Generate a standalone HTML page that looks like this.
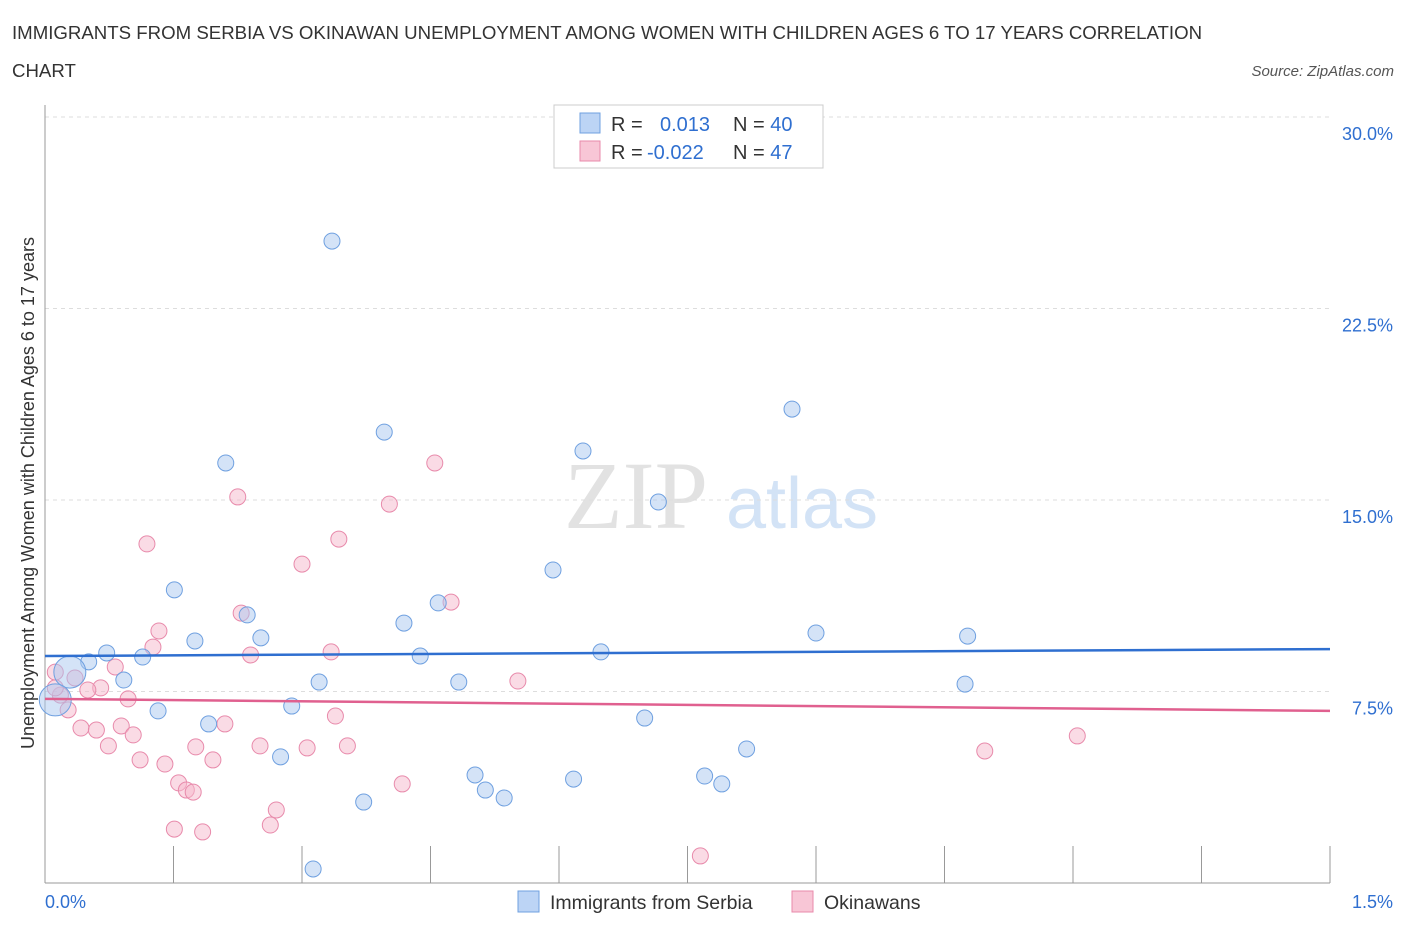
<!DOCTYPE html>
<html><head><meta charset="utf-8"><style>
body{margin:0;background:#fff;font-family:"Liberation Sans",sans-serif;}
#wrap{position:relative;width:1406px;height:930px;overflow:hidden}
</style></head><body>
<div id="wrap">
<svg id="svg" width="1406" height="930" xmlns="http://www.w3.org/2000/svg">
<text x="12" y="39" font-size="18.65" fill="#333">IMMIGRANTS FROM SERBIA VS OKINAWAN UNEMPLOYMENT AMONG WOMEN WITH CHILDREN AGES 6 TO 17 YEARS CORRELATION</text>
<text x="12" y="77" font-size="18.65" fill="#333">CHART</text>
<text x="1394" y="76" font-size="15" fill="#555" font-style="italic" text-anchor="end">Source: ZipAtlas.com</text>
<text x="636" y="528" font-size="96" fill="#e2e2e2" font-family="Liberation Serif,serif" text-anchor="middle">ZIP</text>
<text x="802" y="528" font-size="72" fill="#d3e3f6" text-anchor="middle">atlas</text>
<text transform="translate(34,493) rotate(-90)" font-size="18" fill="#333" text-anchor="middle">Unemployment Among Women with Children Ages 6 to 17 years</text>
<g id="grid"></g><g id="marks"></g>
<g>
<rect x="554" y="105" width="269" height="63" fill="#fff" stroke="#ccc"/>
<rect x="580" y="113" width="20" height="20" fill="#bcd4f5" stroke="#6fa0e0"/>
<rect x="580" y="141" width="20" height="20" fill="#f8c6d6" stroke="#e88aab"/>
<text x="611" y="131" font-size="20" fill="#333">R = <tspan fill="#2f6fd0" x="660">0.013</tspan><tspan fill="#333" x="733">N = </tspan><tspan fill="#2f6fd0">40</tspan></text>
<text x="611" y="159" font-size="20" fill="#333">R = <tspan fill="#2f6fd0" x="647">-0.022</tspan><tspan fill="#333" x="733">N = </tspan><tspan fill="#2f6fd0">47</tspan></text>
</g>
<rect x="518" y="891" width="21" height="21" fill="#bcd4f5" stroke="#6fa0e0"/>
<text x="550" y="909" font-size="19.5" fill="#333">Immigrants from Serbia</text>
<rect x="792" y="891" width="21" height="21" fill="#f8c6d6" stroke="#e88aab"/>
<text x="824" y="909" font-size="19.5" fill="#333">Okinawans</text>
</svg></div>
<script>
const yTicks=[7.5,15,22.5,30];
const yTickLabels=["7.5%","15.0%","22.5%","30.0%"];
const xTicks=[0,0.15,0.3,0.45,0.6,0.75,0.9,1.05,1.2,1.35,1.5];
const serbiaX=[0.335,0.211,0.396,0.872,0.628,0.716,0.151,0.593,0.236,0.459,0.419,0.175,0.252,0.900,1.077,0.072,0.114,0.051,0.029,0.438,0.649,0.092,0.320,0.483,1.074,0.132,0.288,0.191,0.700,0.819,0.275,0.502,0.617,0.770,0.514,0.790,0.536,0.372,0.313,0.012];
const serbiaY=[25.14,16.45,17.66,18.56,16.92,14.92,11.48,12.26,10.50,10.97,10.18,9.48,9.60,9.79,9.67,9.01,8.85,8.66,8.26,8.89,9.05,7.95,7.87,7.87,7.79,6.74,6.93,6.23,6.46,5.25,4.94,4.23,4.07,4.19,3.64,3.88,3.33,3.17,0.55,7.17];
const okiX=[0.119,0.225,0.455,0.402,0.343,0.300,0.474,0.229,0.133,0.126,0.334,0.240,0.082,0.012,0.035,0.065,0.050,0.018,0.097,0.027,0.552,0.339,0.042,0.060,0.210,0.089,0.103,0.074,0.176,0.251,0.306,0.353,0.111,0.196,0.140,1.097,1.205,0.156,0.165,0.173,0.417,0.270,0.263,0.151,0.184,0.765,0.012];
const okiY=[13.28,15.12,16.45,14.84,13.47,12.49,11.00,10.57,9.87,9.24,9.05,8.93,8.46,8.26,8.03,7.64,7.56,7.36,7.21,6.78,7.91,6.54,6.07,5.99,6.23,6.15,5.80,5.37,5.33,5.37,5.29,5.37,4.82,4.82,4.66,5.17,5.76,3.92,3.64,3.56,3.88,2.86,2.27,2.11,2.00,1.06,7.64];
const serbiaTrend=[8.89,9.16];
const okiTrend=[7.21,6.74];
const X0=45,X1=1330,Y0=883,PX=191.5/7.5;
const sx=v=>X0+(v/1.5)*(X1-X0);
const sy=v=>Y0-v*PX;
const NS="http://www.w3.org/2000/svg";
const grid=document.getElementById('grid'),marks=document.getElementById('marks');
function mk(tag,attrs,parent){const e=document.createElementNS(NS,tag);for(const k in attrs)e.setAttribute(k,attrs[k]);parent.appendChild(e);return e;}
yTicks.forEach((t,i)=>{
 const l=mk('line',{x1:X0,x2:X1,y1:sy(t),y2:sy(t),stroke:'#ddd','stroke-dasharray':'4,4'},grid);
 
 
 const tx=mk('text',{x:1393,y:sy(t)+23,'font-size':18,fill:'#2f6fd0','text-anchor':'end'},grid);
 tx.textContent=yTickLabels[i];
 
 
});
const ya=mk('line',{x1:X0,x2:X0,y1:105,y2:Y0,stroke:'#999'},grid);


const xa=mk('line',{x1:X0,x2:X1,y1:Y0,y2:Y0,stroke:'#999'},grid);


xTicks.forEach(t=>{
 const l=mk('line',{x1:sx(t),x2:sx(t),y1:Y0,y2:Y0-37,stroke:'#999'},grid);
 
 
});
const xl0=mk('text',{x:45,y:908,'font-size':18,fill:'#2f6fd0'},grid);xl0.textContent='0.0%';


const xl1=mk('text',{x:1393,y:908,'font-size':18,fill:'#2f6fd0','text-anchor':'end'},grid);xl1.textContent='1.5%';


function pts(xs,ys,fill,stroke,name){
 xs.forEach((x,i)=>{
  const r=(x<0.04&&(name==='serbia-point'?(i>=18):false))?16:8;
  const c=mk('circle',{cx:sx(x),cy:sy(ys[i]),r:r,fill:fill,'fill-opacity':0.5,stroke:stroke,'stroke-width':1},marks);
  
  
 });
}
pts(okiX,okiY,'#f5b8cc','#e88aab','okinawan-point');
pts(serbiaX,serbiaY,'#a9c8f0','#6fa0e0','serbia-point');
const tb=mk('line',{x1:sx(0),x2:sx(1.5),y1:sy(serbiaTrend[0]),y2:sy(serbiaTrend[1]),stroke:'#2f6fd0','stroke-width':2.5},marks);


const tp=mk('line',{x1:sx(0),x2:sx(1.5),y1:sy(okiTrend[0]),y2:sy(okiTrend[1]),stroke:'#e0608f','stroke-width':2.5},marks);


</script>
</body></html>
